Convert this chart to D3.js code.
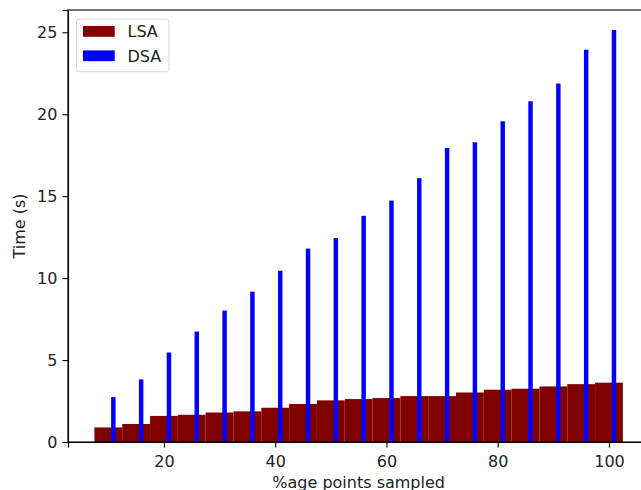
<!DOCTYPE html>
<html lang="en">
	<head>
		<meta charset="utf-8">
		<title>LSA vs DSA time</title>
		<script type="text/javascript" src="https://cdn.jsdelivr.net/npm/d3@7"></script>
		<style type="text/css">
			body { margin: 0; background: #fff; }
			.axis path,
			.axis line {
				fill: none;
				stroke: black;
				stroke-width: 1.1;
			}
			.axis text {
				font-family: "DejaVu Sans", sans-serif;
				font-size: 16px;
				fill: #222;
			}
		</style>
	</head>
	<body>
		<script type="text/javascript">
			// sampled percentage and timings
			var percents = [10, 15, 20, 25, 30, 35, 40, 45, 50, 55, 60, 65, 70, 75, 80, 85, 90, 95, 100];
			var lsaTimes = [0.89, 1.10, 1.59, 1.66, 1.80, 1.87, 2.09, 2.32, 2.54, 2.62, 2.68, 2.80, 2.80, 3.02, 3.19, 3.25, 3.39, 3.53, 3.62];
			var dsaTimes = [2.74, 3.82, 5.46, 6.74, 8.02, 9.17, 10.45, 11.80, 12.44, 13.80, 14.73, 16.10, 17.94, 18.29, 19.57, 20.79, 21.87, 23.94, 25.14];
			var xTicks = [20, 40, 60, 80, 100];
			var yTicks = [0, 5, 10, 15, 20, 25];

			var w = 641;
			var h = 490;
			// plot area edges (the right spine falls just outside the picture)
			var padL = 68, padT = 10, padR = 649.3, padB = 442;

			var lsaWidth = 5, dsaWidth = 0.8, dsaShift = 0.9;

			var xScale = d3.scaleLinear().domain([2.75, 107.25]).range([padL, padR]);
			var yScale = d3.scaleLinear().domain([0, 26.36]).range([padB, padT]);

			var svg = d3.select("body").append("svg").attr("width", w).attr("height", h);

			var data = percents.map(function(p, i) { return {x: p, lsa: lsaTimes[i], dsa: dsaTimes[i]}; });

			svg.selectAll("rect.lsa")
			   .data(data)
			   .enter()
			   .append("rect")
			   .attr("class", "lsa")
			   .attr("x", function(d) { return xScale(d.x - lsaWidth / 2); })
			   .attr("width", function(d) { return xScale(d.x + lsaWidth / 2) - xScale(d.x - lsaWidth / 2); })
			   .attr("y", function(d) { return yScale(d.lsa); })
			   .attr("height", function(d) { return yScale(0) - yScale(d.lsa); })
			   .style("fill", "#800000");

			svg.selectAll("rect.dsa")
			   .data(data)
			   .enter()
			   .append("rect")
			   .attr("class", "dsa")
			   .attr("x", function(d) { return xScale(d.x + dsaShift - dsaWidth / 2); })
			   .attr("width", function(d) { return xScale(d.x + dsaShift + dsaWidth / 2) - xScale(d.x + dsaShift - dsaWidth / 2); })
			   .attr("y", function(d) { return yScale(d.dsa); })
			   .attr("height", function(d) { return yScale(0) - yScale(d.dsa); })
			   .style("fill", "#0000ff");

			// axes
			var xAxis = d3.axisBottom(xScale).tickValues(xTicks).tickSizeOuter(0).tickSize(5.6).tickPadding(7.7);
			var yAxis = d3.axisLeft(yScale).tickValues(yTicks).tickSizeOuter(0).tickSize(5.6).tickPadding(5);
			svg.append("g").attr("class", "axis").attr("transform", "translate(0," + padB + ")").call(xAxis);
			svg.append("g").attr("class", "axis").attr("transform", "translate(" + padL + ",0)").call(yAxis);

			// spines
			svg.append("rect")
			   .attr("x", padL).attr("y", padT)
			   .attr("width", padR - padL).attr("height", padB - padT)
			   .style("fill", "none").style("stroke", "black").style("stroke-width", 1.1);

			svg.append("text")
			   .attr("x", (padL + padR) / 2).attr("y", 488)
			   .attr("text-anchor", "middle")
			   .attr("font-family", "DejaVu Sans, sans-serif").attr("font-size", "16px").attr("fill", "#222")
			   .text("%age points sampled");

			svg.append("text")
			   .attr("transform", "translate(25," + ((padT + padB) / 2) + ") rotate(-90)")
			   .attr("text-anchor", "middle")
			   .attr("font-family", "DejaVu Sans, sans-serif").attr("font-size", "16px").attr("fill", "#222")
			   .text("Time (s)");

			// legend
			var legend = svg.append("g").attr("transform", "translate(76.5,19)");
			legend.append("rect")
			   .attr("width", 92.5).attr("height", 52.7).attr("rx", 3)
			   .style("fill", "white").style("fill-opacity", 0.8)
			   .style("stroke", "#d6d6d6").style("stroke-width", 1);
			var entries = [{name: "LSA", color: "#800000"}, {name: "DSA", color: "#0000ff"}];
			var items = legend.selectAll("g.item")
			   .data(entries)
			   .enter()
			   .append("g")
			   .attr("transform", function(d, i) { return "translate(0," + (i * 24.4) + ")"; });
			items.append("rect")
			   .attr("x", 6.5).attr("y", 7).attr("width", 31.7).attr("height", 10.8)
			   .style("fill", function(d) { return d.color; });
			items.append("text")
			   .attr("x", 51).attr("y", 18.3)
			   .attr("font-family", "DejaVu Sans, sans-serif").attr("font-size", "16px").attr("fill", "#222")
			   .text(function(d) { return d.name; });
		</script>
	</body>
</html>
